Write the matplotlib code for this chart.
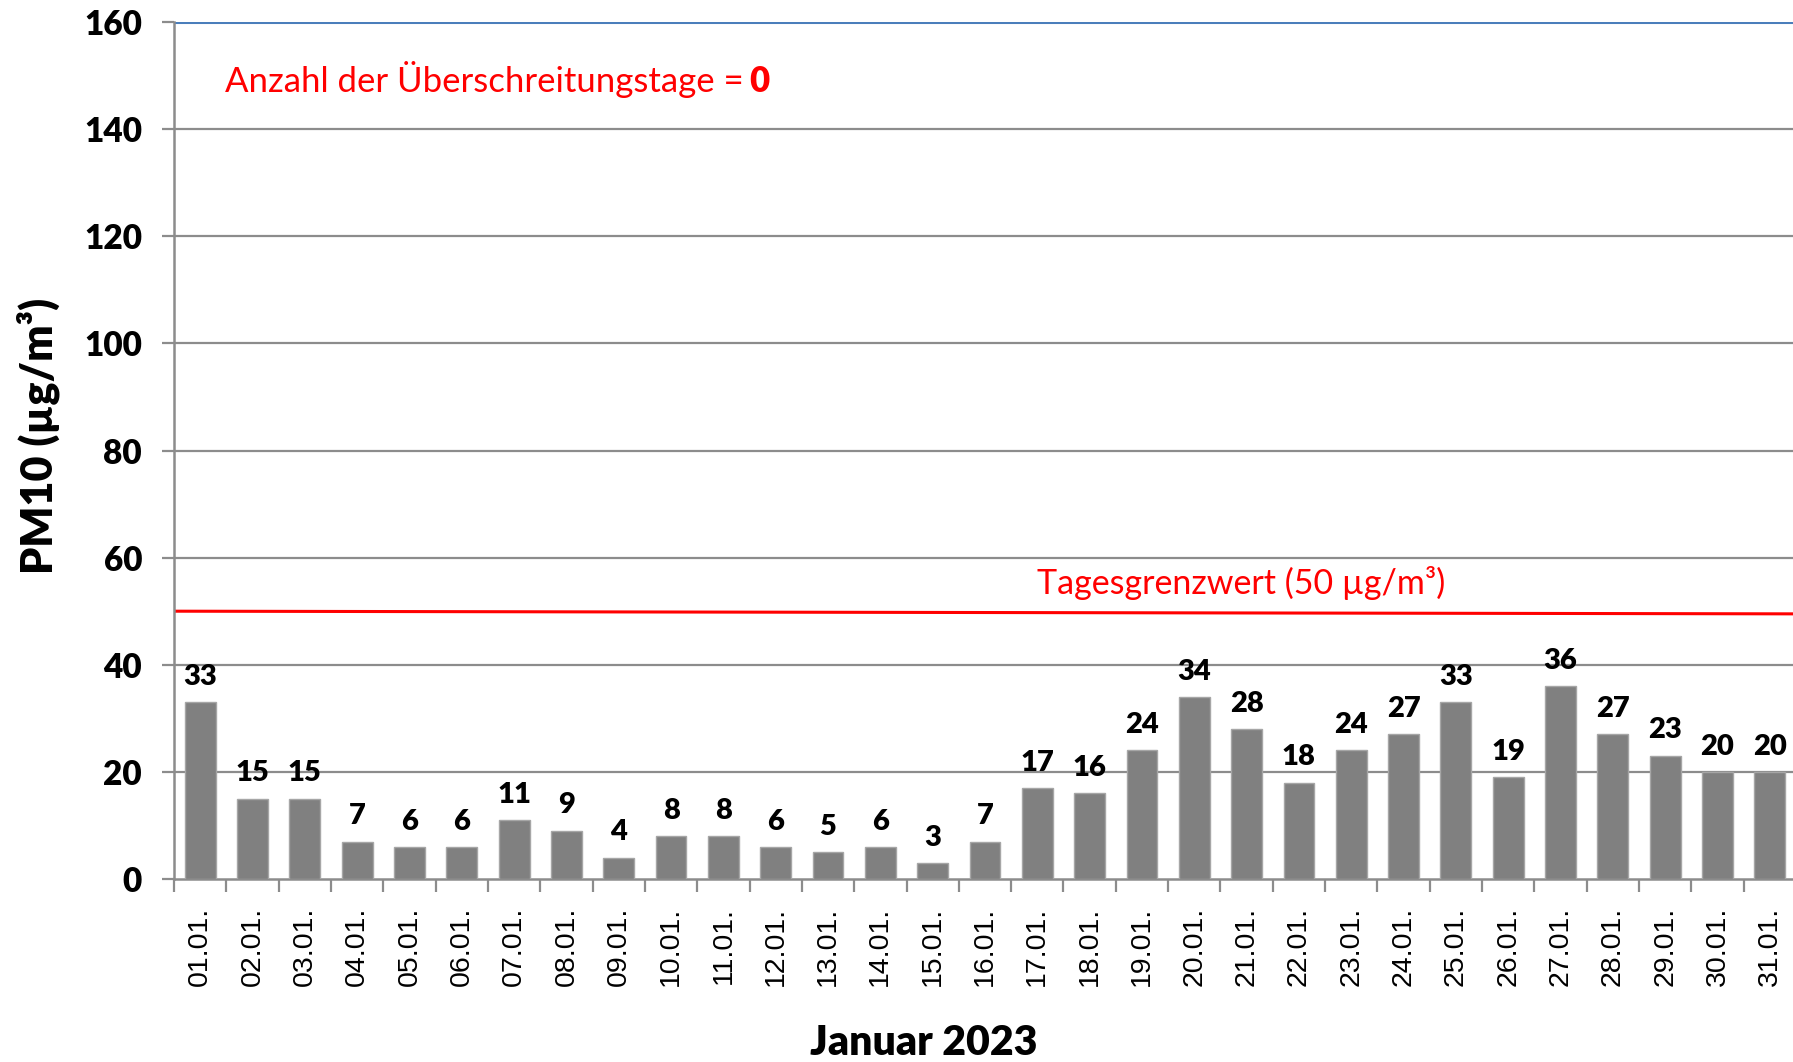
import matplotlib
matplotlib.use("Agg")
import matplotlib.pyplot as plt
import numpy as np

# daily PM10 means, January 2023
days = ["01.01.", "02.01.", "03.01.", "04.01.", "05.01.", "06.01.", "07.01.", "08.01.",
        "09.01.", "10.01.", "11.01.", "12.01.", "13.01.", "14.01.", "15.01.", "16.01.",
        "17.01.", "18.01.", "19.01.", "20.01.", "21.01.", "22.01.", "23.01.", "24.01.",
        "25.01.", "26.01.", "27.01.", "28.01.", "29.01.", "30.01.", "31.01."]
pm10 = [33, 15, 15, 7, 6, 6, 11, 9, 4, 8, 8, 6, 5, 6, 3, 7,
        17, 16, 24, 34, 28, 18, 24, 27, 33, 19, 36, 27, 23, 20, 20]
limit_line = [50, 49.5]   # drawn limit line (left end, right end)
y_ticks = [0, 20, 40, 60, 80, 100, 120, 140, 160]
exceed_days = 0

calib = ["Lato", "DejaVu Sans"]
arial = ["Liberation Sans", "DejaVu Sans"]
grid_col = "#8c8c8c"

W, H = 1793, 1062
fig = plt.figure(figsize=(W / 100, H / 100), dpi=100)
left, right, top, bottom = 174, 1796, 22, 879
ax = fig.add_axes([left / W, 1 - bottom / H, (right - left) / W, (bottom - top) / H])

x = np.arange(len(days))
ax.bar(x, pm10, width=0.59, color="#808080", edgecolor="#a6a6a6", linewidth=1, zorder=3)

for xi, v in zip(x, pm10):
    ax.text(xi, v + 2.3, str(v), ha="center", va="bottom", fontsize=21,
            fontweight="heavy", family=calib, zorder=4)

# grid lines
for yt in y_ticks[1:-1]:
    ax.axhline(yt, color=grid_col, lw=1.6, zorder=1)
ax.axhline(160, color="#4a7ebb", lw=2.2, zorder=1)

# limit line
ax.plot([-0.5, len(days) - 0.5], limit_line, color="#ff0000", lw=2.2, zorder=2)
ax.text(16.0, 53.2, "Tagesgrenzwert (50 µg/m³)", color="#ff0000", fontsize=24.5,
        family=calib, ha="left", va="baseline")
ax.text(0.47, 147, "Anzahl der Überschreitungstage =", color="#ff0000", fontsize=25,
        family=calib, ha="left", va="baseline")
ax.text(10.5, 147, str(exceed_days), color="#ff0000", fontsize=25, fontweight="heavy",
        family=calib, ha="left", va="baseline")

ax.set_xlim(-0.5, len(days) - 0.5)
ax.set_ylim(0, 160)
ax.set_yticks(y_ticks)
ax.set_yticklabels([str(v) for v in y_ticks], fontsize=24, fontweight="heavy", family=calib)
ax.set_xticks(x)
ax.set_xticklabels(days, rotation=90, fontsize=20.5, family=arial)
ax.set_xticks(np.arange(-0.5, len(days)), minor=True)
ax.tick_params(axis="x", which="major", length=0, pad=20)
ax.tick_params(axis="x", which="minor", length=9, width=1.6, color=grid_col, direction="out")
ax.tick_params(axis="y", length=9, width=1.6, color=grid_col, direction="out", pad=14)

for s in ["top", "right"]:
    ax.spines[s].set_visible(False)
for s in ["left", "bottom"]:
    ax.spines[s].set_color(grid_col)
    ax.spines[s].set_linewidth(1.8)

fig.text(38 / W, 1 - 436 / H, "PM10 (µg/m³)", rotation=90, ha="center", va="center",
         fontsize=31, fontweight="heavy", family=calib)
fig.text(924 / W, 1 - 1043 / H, "Januar 2023", ha="center", va="center",
         fontsize=29.5, fontweight="heavy", family=calib)

fig.savefig("out.png", dpi=100)
